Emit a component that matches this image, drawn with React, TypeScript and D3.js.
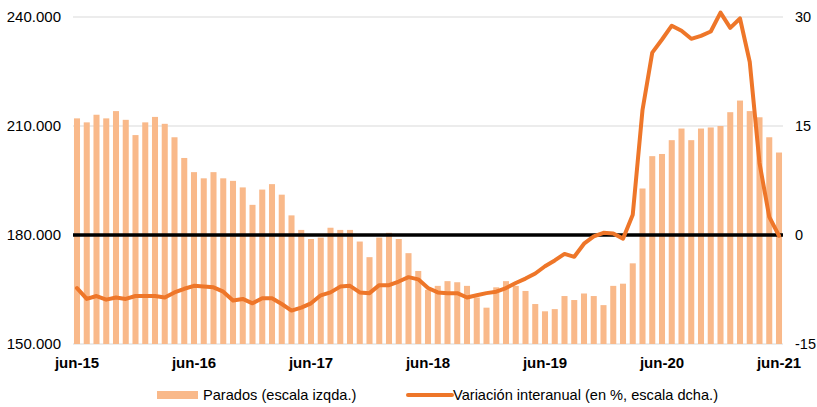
import * as d3 from 'd3';

// Parados (escala izqda.), jun-15 .. jun-21, monthly
const parados = [
  212100, 211000, 213100, 212100, 214100, 211700, 207500, 211000, 212500, 210600, 206900, 201200,
  197300, 195600, 197300, 195600, 194900, 193100, 188300, 192500, 194000, 191100, 185400, 181400,
  178900, 179300, 182000, 181400, 181400, 178200, 173900, 179300, 180600, 178900, 175000, 170100,
  164900, 166000, 167300, 167000, 166000, 162800, 160000, 165600, 167300, 166000, 164600, 161000,
  159000, 159600, 163200, 162100, 163900, 163200, 160700, 166000, 166600, 172200, 192800, 201700,
  202300, 206100, 209300, 206100, 209300, 209600, 210000, 213800, 217000, 214100, 212400, 206900,
  202700,
];

// Variación interanual (en %, escala dcha.)
const variacion = [
  -7.3, -8.8, -8.4, -8.9, -8.6, -8.8, -8.4, -8.4, -8.4, -8.6, -7.9, -7.4,
  -7.0, -7.1, -7.2, -7.8, -9.0, -8.8, -9.4, -8.7, -8.7, -9.5, -10.4, -10.0,
  -9.4, -8.3, -7.9, -7.1, -7.0, -7.9, -8.0, -6.9, -6.9, -6.4, -5.8, -6.1,
  -7.3, -7.9, -8.0, -8.0, -8.6, -8.3, -8.0, -7.8, -7.3, -6.6, -6.0, -5.3,
  -4.3, -3.5, -2.6, -3.0, -1.2, -0.2, 0.3, 0.2, -0.5, 2.8, 17.2, 25.1,
  26.9, 28.8, 28.1, 27.0, 27.4, 28.0, 30.6, 28.5, 29.8, 23.8, 9.9, 2.5,
  -0.1,
];

const tickLabels = ['jun-15', 'jun-16', 'jun-17', 'jun-18', 'jun-19', 'jun-20', 'jun-21'];
const leftTicks = [150000, 180000, 210000, 240000];
const rightTicks = [-15, 0, 15, 30];
const legendLabels = ['Parados (escala izqda.)', 'Variación interanual (en %, escala dcha.)'];

const months = d3.range(parados.length);

const W = 817;
const H = 407;
const plot = { left: 73, right: 783, top: 17, bottom: 344 };
const barColor = '#f9b98a';
const lineColor = '#ee7629';
const font = '"Liberation Sans", Arial, sans-serif';

export default function App() {
  const x = d3.scaleBand<number>()
    .domain(months)
    .range([plot.left, plot.right])
    .paddingInner(0.38)
    .paddingOuter(0.1);

  const yLeft = d3.scaleLinear().domain([150000, 240000]).range([plot.bottom, plot.top]);
  const yRight = d3.scaleLinear().domain([-15, 30]).range([plot.bottom, plot.top]);

  const cx = (i: number) => (x(i) ?? 0) + x.bandwidth() / 2;
  const fmt = (v: number) => d3.format(',')(v).replace(/,/g, '.');

  const linePath = d3.line<number>()
    .x((_, i) => cx(i))
    .y((d) => yRight(d))(variacion);

  return (
    <svg width={W} height={H} style={{ position: 'absolute', left: 0, top: 0, background: '#fff' }} fontFamily={font}>
      {/* grid */}
      {leftTicks.filter((t) => t !== 180000).map((t) => (
        <line key={t} x1={plot.left} x2={plot.right} y1={yLeft(t)} y2={yLeft(t)} stroke="#d9d9d9" strokeWidth={1} />
      ))}

      {/* bars */}
      {parados.map((v, i) => (
        <rect key={i} x={x(i)} y={yLeft(v)} width={x.bandwidth()} height={yLeft(150000) - yLeft(v)} fill={barColor} />
      ))}

      {/* zero line */}
      <line x1={plot.left} x2={plot.right} y1={yRight(0)} y2={yRight(0)} stroke="#000" strokeWidth={3.5} />

      <path d={linePath ?? ''} fill="none" stroke={lineColor} strokeWidth={4} strokeLinejoin="round" strokeLinecap="round" />

      {/* left axis */}
      {leftTicks.map((t) => (
        <text key={t} x={61} y={yLeft(t)} dy="0.35em" textAnchor="end" fontSize={15} fill="#000">{fmt(t)}</text>
      ))}

      {/* right axis */}
      {rightTicks.map((t) => (
        <text key={t} x={795} y={yRight(t)} dy="0.35em" textAnchor="start" fontSize={14.5} fill="#000">{t}</text>
      ))}

      {/* x labels */}
      {tickLabels.map((lab, k) => (
        <text key={lab} x={cx(k * 12)} y={368} textAnchor="middle" fontSize={15} fontWeight="bold" fill="#000">{lab}</text>
      ))}

      {/* legend */}
      <rect x={157} y={391} width={41} height={8} fill={barColor} />
      <text x={203} y={400} fontSize={14.6} fill="#000">{legendLabels[0]}</text>
      <line x1={408} x2={452} y1={395} y2={395} stroke={lineColor} strokeWidth={4} strokeLinecap="round" />
      <text x={453} y={400} fontSize={14.6} fill="#000">{legendLabels[1]}</text>
    </svg>
  );
}
